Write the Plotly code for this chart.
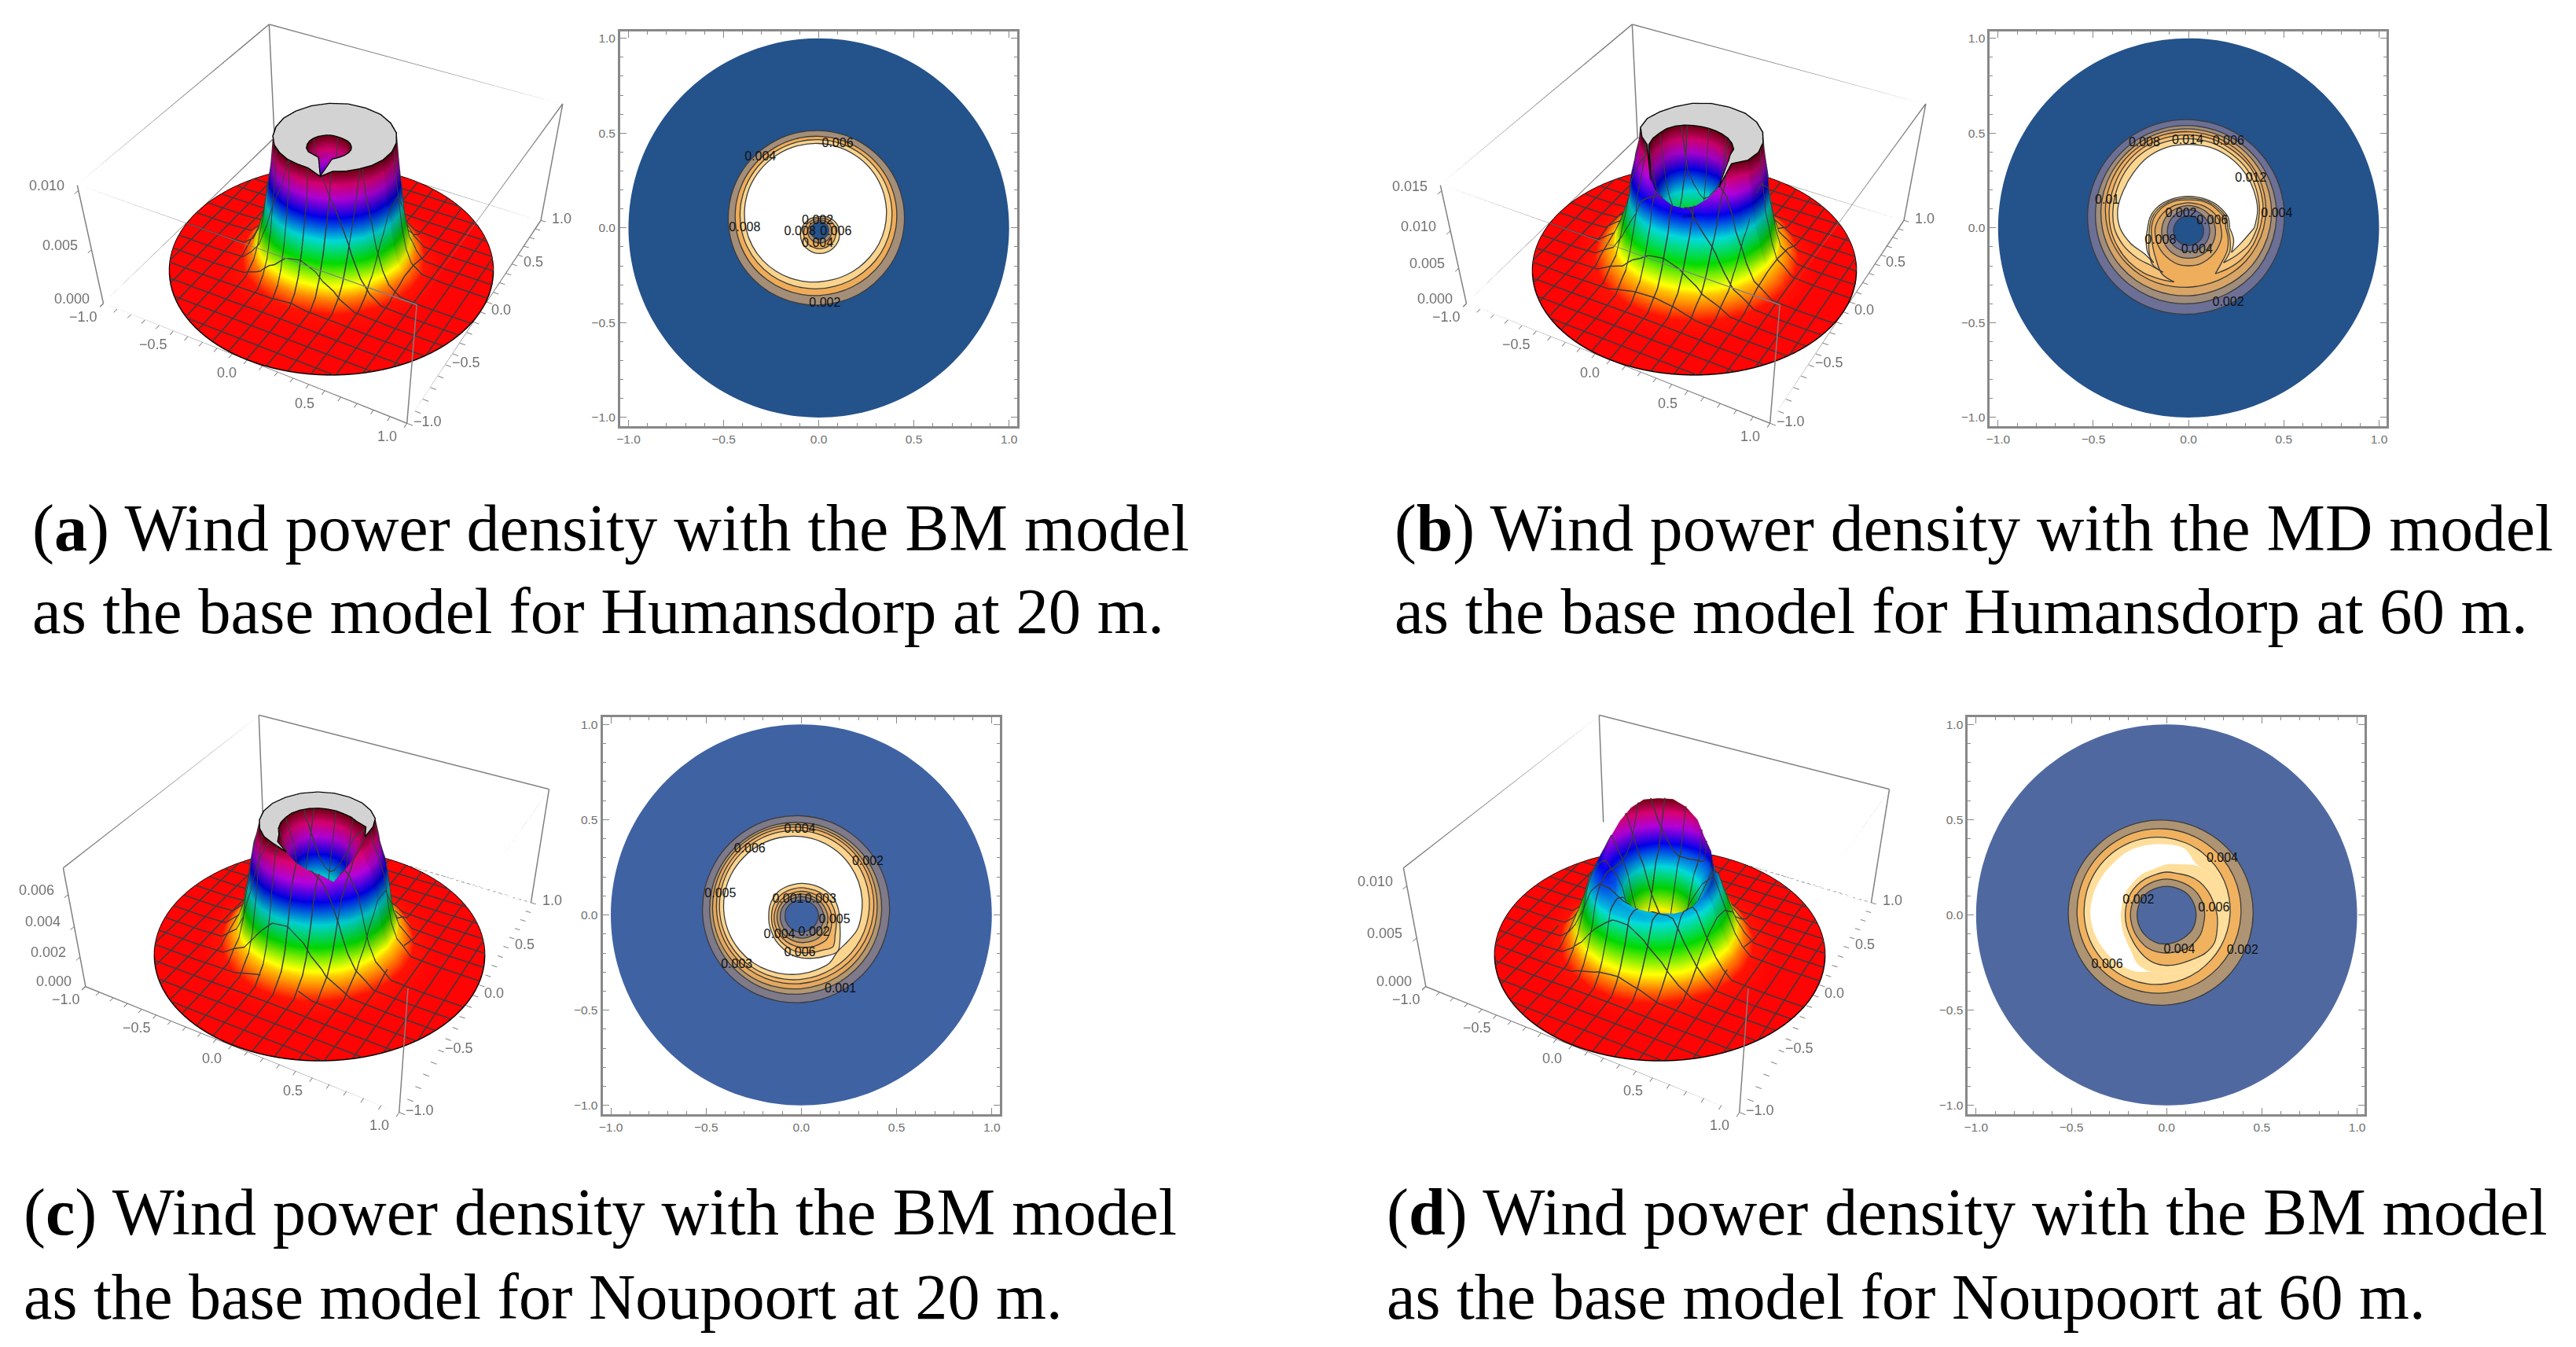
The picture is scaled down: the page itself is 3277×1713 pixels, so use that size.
import numpy as np
import plotly.graph_objects as go

W, H = 3277, 1713
angles_deg = [0,15,30,45,60,75,90,105,120,135,150,165,180,195,210,225,240,255,270,285,300,315,330,345]
disc_r = [1.0]*24
axis_ticks = [-1.0,-0.5,0.0,0.5,1.0]

# ---------- panel (a): radii of each contour, read per angle
a_levels = [0.002,0.004,0.006,0.008]
a_zmax = 0.0103
a_zticks = [0.000,0.005,0.010]
a_out_002 = [.447,.461,.475,.488,.499,.508,.513,.515,.512,.507,.498,.486,.473,.459,.445,.432,.421,.412,.407,.405,.408,.413,.422,.434]
a_out_004 = [.405,.422,.439,.454,.467,.477,.483,.485,.482,.475,.465,.451,.435,.418,.402,.386,.373,.363,.357,.355,.358,.365,.376,.389]
a_out_006 = [.378,.397,.416,.433,.448,.459,.465,.467,.463,.455,.442,.426,.408,.389,.370,.353,.338,.327,.321,.319,.323,.331,.344,.360]
a_out_008 = [.347,.368,.389,.409,.425,.438,.445,.447,.443,.434,.421,.403,.383,.362,.341,.321,.305,.292,.285,.283,.287,.296,.309,.327]
a_in_002 = [.050,.046,.042,.038,.035,.032,.030,.030,.030,.031,.033,.037,.040,.044,.048,.052,.055,.058,.060,.061,.060,.059,.057,.054]
a_in_004 = [.066,.061,.056,.050,.046,.042,.040,.039,.040,.041,.045,.049,.054,.060,.065,.070,.074,.078,.080,.081,.080,.078,.075,.071]
a_in_006 = [.087,.080,.071,.064,.057,.053,.050,.050,.051,.054,.059,.066,.073,.081,.090,.097,.103,.107,.110,.110,.108,.106,.100,.094]
a_in_008 = [.105,.095,.085,.076,.068,.062,.059,.058,.061,.067,.071,.080,.089,.099,.109,.119,.126,.132,.135,.136,.133,.128,.122,.113]
a_cap_in = [.125,.115,.105,.095,.085,.080,.078,.080,.085,.090,.095,.105,.115,.125,.135,.145,.150,.145,.150,.262,.150,.140,.135,.130]
a_cap_out = [.325,.345,.365,.385,.400,.415,.420,.425,.420,.410,.395,.380,.360,.340,.320,.300,.285,.270,.265,.262,.265,.275,.285,.305]
a_ridge_z = [.0103]*19 + [.0098] + [.0103]*4
a_foot_1 = [.495,.500,.525,.535,.550,.550,.560,.555,.560,.550,.550,.530,.520,.500,.495,.475,.470,.455,.455,.445,.460,.455,.470,.475]
a_foot_2 = [.560,.580,.580,.600,.610,.620,.620,.630,.620,.620,.600,.600,.580,.570,.550,.550,.530,.520,.520,.510,.520,.520,.530,.550]
a_floor = 0.72
a_hole = 0.02
a_disc_color = '#24528B'
a_bands = ['#A58E78','#EFAC58','#FAD48C','#FFFFFF']
a_label_text = ['0.006','0.004','0.008','0.002','0.008','0.006','0.004','0.002']
a_label_x = [.099,-.307,-.389,-.006,-.099,.090,-.006,.032]
a_label_y = [.442,.372,.001,.035,-.020,-.020,-.084,-.398]

# ---------- panel (b)
b_levels = [0.002,0.004,0.006,0.008,0.010,0.012,0.014]
b_zmax = 0.0155
b_zticks = [0.000,0.005,0.010,0.015]
b_out_002 = [.499,.515,.530,.544,.556,.565,.571,.573,.570,.564,.554,.542,.527,.512,.496,.482,.470,.461,.455,.453,.456,.462,.472,.485]
b_out_004 = [.456,.475,.493,.510,.524,.534,.540,.541,.538,.529,.517,.502,.484,.465,.447,.430,.416,.406,.400,.399,.402,.411,.423,.438]
b_out_006 = [.427,.449,.470,.489,.505,.516,.522,.523,.518,.507,.492,.474,.453,.431,.410,.391,.375,.364,.358,.357,.362,.373,.388,.406]
b_out_008 = [.394,.420,.445,.467,.486,.500,.507,.508,.502,.490,.472,.451,.426,.400,.375,.353,.334,.320,.313,.312,.318,.330,.348,.369]
b_out_010 = [.375,.405,.430,.455,.470,.485,.490,.490,.485,.470,.450,.430,.410,.385,.360,.335,.310,.295,.290,.290,.280,.300,.325,.350]
b_out_012 = [.360,.385,.410,.435,.450,.465,.470,.470,.465,.450,.430,.410,.390,.355,.315,.280,.270,.270,.270,.270,.270,.260,.290,.330]
b_out_014 = [.345,.375,.395,.415,.430,.440,.440,.440,.430,.410,.395,.385,.360,.315,.270,.260,.260,.260,.260,.260,.260,.250,.260,.290]
b_in_002 = [.078,.074,.070,.067,.065,.064,.063,.064,.065,.067,.070,.074,.078,.082,.086,.089,.091,.092,.093,.092,.091,.089,.086,.082]
b_in_004 = [.110,.106,.102,.099,.097,.096,.095,.096,.097,.099,.102,.106,.110,.114,.118,.121,.123,.124,.125,.124,.123,.121,.118,.114]
b_in_006 = [.140,.135,.130,.125,.120,.118,.118,.118,.120,.125,.130,.135,.140,.145,.150,.155,.158,.160,.160,.160,.158,.155,.150,.145]
b_in_008 = [.170,.165,.155,.145,.138,.133,.132,.133,.138,.145,.155,.165,.175,.180,.185,.190,.195,.200,.200,.200,.195,.190,.185,.180]
b_in_010 = [.195,.195,.180,.170,.160,.152,.148,.152,.160,.170,.180,.190,.195,.200,.215,.240,.280,.295,.290,.290,.280,.250,.235,.215]
b_in_012 = [.205,.205,.190,.178,.168,.160,.157,.160,.168,.178,.190,.200,.205,.215,.240,.270,.270,.270,.270,.270,.270,.260,.250,.225]
b_in_014 = [.215,.215,.200,.187,.175,.168,.166,.168,.175,.187,.200,.210,.215,.230,.250,.260,.260,.260,.260,.260,.260,.250,.260,.245]
b_cap_in = [.225,.225,.210,.197,.185,.178,.176,.178,.185,.197,.210,.220,.225,.240,.255,.260,.260,.260,.260,.260,.260,.250,.260,.255]
b_cap_out = [.335,.365,.385,.405,.420,.430,.430,.430,.420,.400,.385,.375,.350,.305,.265,.260,.260,.260,.260,.260,.260,.250,.260,.280]
b_ridge_z = [.0155,.0155,.0155,.0155,.0155,.0155,.0155,.0155,.0155,.0155,.0155,.0155,.0155,.0155,.0155,.012,.0115,.0112,.0108,.0108,.0112,.0118,.013,.0155]
b_foot_1 = [.545,.565,.580,.590,.605,.615,.620,.620,.620,.610,.600,.590,.575,.560,.545,.530,.520,.510,.505,.500,.505,.510,.520,.535]
b_foot_2 = [.620,.630,.650,.660,.680,.680,.690,.690,.690,.680,.670,.660,.645,.630,.620,.600,.590,.580,.575,.570,.575,.580,.590,.605]
b_floor = 0.78
b_hole = 0.05
b_disc_color = '#24528B'
b_bands = ['#6C7096','#A18D7C','#D9A566','#EFAE5C','#F6C278','#FBD690','#FFFFFF']
b_label_text = ['0.008','0.014','0.006','0.012','0.01','0.004','0.002','0.006','0.008','0.004','0.002']
b_label_x = [-.232,-.005,.209,.327,-.427,.463,-.040,.124,-.148,.044,.208]
b_label_y = [.446,.461,.457,.261,.144,.075,.075,.035,-.069,-.116,-.395]

# ---------- panel (c)
c_levels = [0.001,0.002,0.003,0.004,0.005,0.006]
c_zmax = 0.0075
c_zticks = [0.000,0.002,0.004,0.006]
c_out_001 = [.462,.471,.481,.491,.502,.512,.520,.526,.530,.531,.529,.525,.518,.509,.499,.489,.478,.468,.460,.454,.450,.449,.451,.455]
c_out_002 = [.420,.430,.442,.454,.465,.476,.485,.492,.495,.496,.494,.488,.480,.470,.459,.446,.435,.424,.415,.408,.405,.404,.407,.412]
c_out_003 = [.396,.408,.422,.436,.450,.463,.473,.480,.484,.484,.481,.474,.464,.452,.438,.424,.410,.397,.387,.380,.376,.376,.379,.386]
c_out_004 = [.377,.391,.406,.422,.437,.450,.460,.467,.470,.469,.464,.455,.443,.429,.414,.398,.383,.370,.360,.353,.350,.351,.356,.365]
c_out_005 = [.353,.368,.384,.401,.417,.431,.442,.450,.454,.453,.448,.439,.427,.412,.396,.379,.363,.349,.338,.330,.326,.327,.332,.341]
c_out_006 = [.315,.330,.347,.364,.382,.398,.411,.421,.427,.428,.425,.417,.405,.390,.373,.356,.338,.322,.309,.299,.293,.270,.280,.303]
c_in_001 = [.090,.088,.085,.082,.080,.078,.078,.078,.080,.082,.083,.085,.085,.087,.087,.088,.090,.090,.090,.090,.090,.090,.090,.090]
c_in_002 = [.118,.112,.108,.103,.098,.096,.096,.096,.098,.100,.104,.108,.110,.113,.115,.118,.120,.120,.122,.122,.122,.122,.122,.120]
c_in_003 = [.138,.130,.124,.118,.113,.110,.110,.110,.112,.115,.120,.124,.127,.130,.133,.137,.140,.142,.145,.147,.150,.150,.148,.143]
c_in_004 = [.158,.150,.142,.134,.128,.125,.124,.124,.127,.130,.135,.138,.142,.146,.150,.155,.160,.165,.170,.175,.180,.185,.175,.165]
c_in_005 = [.180,.172,.165,.155,.148,.143,.143,.143,.146,.150,.152,.155,.156,.160,.165,.172,.180,.190,.198,.205,.215,.235,.205,.190]
c_in_006 = [.200,.195,.190,.180,.172,.167,.166,.165,.168,.172,.172,.172,.171,.175,.180,.190,.200,.215,.225,.235,.250,.270,.235,.210]
c_cap_in = [.260,.260,.260,.220,.210,.200,.200,.200,.205,.210,.215,.220,.220,.225,.230,.235,.270,.265,.265,.265,.270,.270,.260,.260]
c_cap_out = [.260,.260,.300,.330,.345,.360,.370,.380,.385,.385,.380,.375,.365,.350,.335,.320,.300,.265,.265,.265,.270,.270,.260,.260]
c_ridge_z = [.0070,.0073,.0075,.0075,.0075,.0075,.0075,.0075,.0075,.0075,.0075,.0075,.0075,.0075,.0075,.0075,.0075,.0072,.0068,.0065,.0063,.0058,.0062,.0066]
c_foot_1 = [.500,.515,.520,.535,.540,.555,.560,.570,.570,.575,.570,.565,.560,.550,.540,.530,.520,.510,.500,.495,.490,.490,.490,.495]
c_foot_2 = [.560,.570,.580,.590,.600,.610,.620,.630,.630,.630,.630,.625,.620,.610,.600,.590,.580,.570,.560,.555,.550,.550,.550,.555]
c_floor = 0.75
c_hole = 0.05
c_disc_color = '#3F62A3'
c_bands = ['#7F7A8A','#B4976F','#E4A85E','#F3B566','#FBD48E','#FFFFFF']
c_label_text = ['0.004','0.006','0.002','0.005','0.001','0.003','0.005','0.002','0.004','0.006','0.003','0.001']
c_label_x = [-.008,-.271,.349,-.425,-.070,.101,.174,.067,-.115,-.008,-.339,.205]
c_label_y = [.448,.343,.277,.110,.081,.081,-.028,-.092,-.104,-.199,-.263,-.391]

# ---------- panel (d)
d_levels = [0.002,0.004,0.006,0.007]
d_zmax = 0.0115
d_zticks = [0.000,0.005,0.010]
d_out_002 = [.454,.458,.464,.472,.480,.489,.497,.505,.511,.515,.518,.518,.516,.512,.506,.498,.490,.481,.473,.465,.459,.455,.452,.452]
d_out_004 = [.390,.397,.406,.417,.428,.440,.451,.461,.468,.473,.475,.474,.470,.463,.454,.443,.432,.420,.409,.399,.392,.387,.385,.386]
d_out_006 = [.333,.340,.351,.363,.377,.391,.405,.417,.427,.434,.437,.437,.433,.426,.415,.403,.389,.375,.361,.349,.339,.332,.329,.329]
d_out_007 = [.310,.310,.310,.310,.310,.360,.370,.380,.390,.390,.395,.400,.400,.390,.375,.360,.340,.310,.310,.310,.315,.310,.310,.310]
d_in_002 = [.155,.155,.155,.155,.152,.150,.150,.150,.152,.155,.155,.155,.155,.155,.155,.155,.155,.155,.152,.150,.150,.152,.155,.155]
d_in_004 = [.200,.200,.198,.195,.190,.188,.188,.188,.188,.190,.190,.190,.190,.190,.192,.195,.200,.200,.200,.200,.205,.205,.205,.200]
d_in_006 = [.265,.255,.250,.245,.235,.225,.225,.220,.220,.220,.220,.218,.217,.218,.220,.230,.245,.260,.265,.265,.270,.285,.290,.275]
d_in_007 = [.310,.310,.310,.310,.300,.275,.265,.250,.250,.245,.245,.240,.240,.243,.250,.265,.300,.310,.310,.310,.315,.310,.310,.310]
d_cap_in = [.310,.310,.310,.310,.305,.320,.320,.320,.320,.320,.320,.320,.320,.320,.310,.310,.320,.310,.310,.310,.315,.310,.310,.310]
d_cap_out = d_cap_in
d_ridge_z = [.0068,.0072,.0078,.0085,.0092,.0102,.0110,.0115,.0115,.0115,.0110,.0102,.0094,.0085,.0078,.0072,.0066,.0063,.0062,.0061,.0061,.0062,.0062,.0064]
d_foot_1 = [.500,.505,.510,.520,.525,.535,.540,.550,.555,.560,.565,.565,.560,.555,.550,.540,.535,.525,.520,.510,.505,.500,.500,.500]
d_foot_2 = [.560,.565,.575,.580,.590,.600,.610,.615,.620,.625,.630,.630,.625,.620,.610,.600,.595,.585,.580,.570,.565,.560,.560,.560]
d_floor = 0.75
d_hole = 0.12
d_disc_color = '#4F69A0'
d_bands = ['#AE9473','#F0B25F','#FEDE9A','#FFFFFF']
d_label_text = ['0.004','0.002','0.006','0.004','0.002','0.006']
d_label_x = [.292,-.148,.248,.067,.399,-.312]
d_label_y = [.296,.075,.036,-.182,-.189,-.263]

caption_a = ['(<b>a</b>) Wind power density with the BM model','as the base model for Humansdorp at 20 m.']
caption_b = ['(<b>b</b>) Wind power density with the MD model','as the base model for Humansdorp at 60 m.']
caption_c = ['(<b>c</b>) Wind power density with the BM model','as the base model for Noupoort at 20 m.']
caption_d = ['(<b>d</b>) Wind power density with the BM model','as the base model for Noupoort at 60 m.']

panels = [
 dict(name='a', levels=a_levels, zmax=a_zmax, zticks=a_zticks, out=[a_out_002,a_out_004,a_out_006,a_out_008],
      inn=[a_in_002,a_in_004,a_in_006,a_in_008], cap_in=a_cap_in, cap_out=a_cap_out, ridge=a_ridge_z,
      foot1=a_foot_1, foot2=a_foot_2, floor=a_floor, hole=a_hole, disc=a_disc_color, bands=a_bands,
      lt=a_label_text, lx=a_label_x, ly=a_label_y, box=(785.5,1291,39.5,542), view=(417,260), cap=True, lastline=True,
      caption=caption_a, cx=34, cy=(672,777), csize=(84,82.7)),
 dict(name='b', levels=b_levels, zmax=b_zmax, zticks=b_zticks, out=[b_out_002,b_out_004,b_out_006,b_out_008,b_out_010,b_out_012,b_out_014],
      inn=[b_in_002,b_in_004,b_in_006,b_in_008,b_in_010,b_in_012,b_in_014], cap_in=b_cap_in, cap_out=b_cap_out, ridge=b_ridge_z,
      foot1=b_foot_1, foot2=b_foot_2, floor=b_floor, hole=b_hole, disc=b_disc_color, bands=b_bands,
      lt=b_label_text, lx=b_label_x, ly=b_label_y, box=(2531,3037,39.5,542), view=(2154,260), cap=True, lastline=True,
      caption=caption_b, cx=1770, cy=(672,777), csize=(83.6,82.8)),
 dict(name='c', levels=c_levels, zmax=c_zmax, zticks=c_zticks, out=[c_out_001,c_out_002,c_out_003,c_out_004,c_out_005,c_out_006],
      inn=[c_in_001,c_in_002,c_in_003,c_in_004,c_in_005,c_in_006], cap_in=c_cap_in, cap_out=c_cap_out, ridge=c_ridge_z,
      foot1=c_foot_1, foot2=c_foot_2, floor=c_floor, hole=c_hole, disc=c_disc_color, bands=c_bands,
      lt=c_label_text, lx=c_label_x, ly=c_label_y, box=(763,1269,912,1417), view=(402,1128), cap=True, lastline=True,
      caption=caption_c, cx=23, cy=(1542,1649), csize=(84,82.2)),
 dict(name='d', levels=d_levels, zmax=d_zmax, zticks=d_zticks, out=[d_out_002,d_out_004,d_out_006,d_out_007],
      inn=[d_in_002,d_in_004,d_in_006,d_in_007], cap_in=d_cap_in, cap_out=d_cap_out, ridge=d_ridge_z,
      foot1=d_foot_1, foot2=d_foot_2, floor=d_floor, hole=d_hole, disc=d_disc_color, bands=d_bands,
      lt=d_label_text, lx=d_label_x, ly=d_label_y, box=(2503,3009,912,1417), view=(2110,1128), cap=False, lastline=False,
      caption=caption_d, cx=1760, cy=(1542,1649), csize=(84,82.2)),
]

th = np.deg2rad(np.array(angles_deg + [360]))
def wrap(r):
    r = np.asarray(r, float)
    return np.concatenate([r, r[:1]])
def xy(r):
    w = wrap(r)
    return w*np.cos(th), w*np.sin(th)

CAPK = 1.06   # intensity of the clipped top, above the hue range -> grey
hue_stops = [(0,'#ff0000'),(1/6,'#ffff00'),(1/3,'#00d800'),(.5,'#00d8d8'),(2/3,'#0000e8'),(.8,'#b000d8'),(.9,'#d80070'),(1,'#700010')]
HUE = [[s/CAPK,c] for s,c in hue_stops] + [[1/CAPK+.002,'#cfcfcf'],[1,'#cfcfcf']]
LIGHT = dict(ambient=.62, diffuse=.62, specular=.08, roughness=.7, fresnel=.05)
LIGHTPOS = dict(x=70000,y=-40000,z=100000)
GRID = [-1+.125*k for k in range(1,16)]

def grid_mesh(X,Y,Z,C):
    nr,nc = X.shape
    idx = np.arange(nr*nc).reshape(nr,nc)
    a = idx[:-1,:-1].ravel(); b = idx[1:,:-1].ravel(); c = idx[1:,1:].ravel(); d = idx[:-1,1:].ravel()
    return X.ravel(),Y.ravel(),Z.ravel(),C.ravel(),np.r_[a,a],np.r_[b,c],np.r_[c,d]

def iso_segments(vx,vy,vz,I,J,K,lift):
    """grid lines of the mesh: where each triangle meets x=c or y=c"""
    ox,oy,oz = [],[],[]
    tri = np.c_[I,J,K]
    for coord in (vx,vy):
        for c in GRID:
            v = coord[tri]-c
            hit = (v.min(axis=1)<0)&(v.max(axis=1)>0)
            for t,vals in zip(tri[hit],v[hit]):
                pts=[]
                for m in range(3):
                    n=(m+1)%3
                    if vals[m]*vals[n]<0:
                        s=vals[m]/(vals[m]-vals[n])
                        pts.append([vx[t[m]]+s*(vx[t[n]]-vx[t[m]]),vy[t[m]]+s*(vy[t[n]]-vy[t[m]]),vz[t[m]]+s*(vz[t[n]]-vz[t[m]])])
                if len(pts)==2:
                    ox+= [pts[0][0],pts[1][0],None]; oy+=[pts[0][1],pts[1][1],None]; oz+=[pts[0][2]+lift,pts[1][2]+lift,None]
    return ox,oy,oz

# camera: the reference uses the usual view point (1.3,-2.4,2)
v = np.array([1.3,-2.4,2.0]); v = v/np.linalg.norm(v)
S = 435.0; Hdom = 540.0
focal = Hdom/np.tan(np.pi/8)
f = -v
right = np.cross(f,[0,0,1.0]); right /= np.linalg.norm(right)
upv = np.cross(right,f)

fig = go.Figure()
layout = dict(width=W, height=H, margin=dict(l=0,r=0,t=0,b=0), autosize=False, paper_bgcolor='white',
              plot_bgcolor='white', showlegend=False, annotations=[])
TICKC = '#707070'
for i,p in enumerate(panels, start=1):
    xn = 'x' if i==1 else f'x{i}'; yn = 'y' if i==1 else f'y{i}'
    xk = 'xaxis' if i==1 else f'xaxis{i}'; yk = 'yaxis' if i==1 else f'yaxis{i}'
    sk = 'scene' if i==1 else f'scene{i}'
    l,r_,t,b = p['box']
    ax = dict(tickvals=axis_ticks, tickformat='.1f', ticks='inside', ticklen=8, tickwidth=1, tickcolor='#888',
              showline=True, linecolor='#888', linewidth=3, mirror='ticks', showgrid=False, zeroline=False,
              tickfont=dict(family='Liberation Sans', size=15.5, color=TICKC),
              minor=dict(tickvals=[round(-1+.1*k,1) for k in range(21)], ticks='inside', ticklen=4, tickcolor='#888', tickwidth=1))
    layout[xk] = dict(domain=[l/W,r_/W], range=[-1.043,1.041], anchor=yn, **ax)
    layout[yk] = dict(domain=[1-b/H,1-t/H], range=[-1.046,1.038], anchor=xn, **ax)
    def poly(rr,color):
        x,y = xy(rr)
        fig.add_trace(go.Scatter(x=x,y=y,xaxis=xn,yaxis=yn,mode='lines',fill='toself',fillcolor=color,
                                 line=dict(width=0,shape='spline',color=color),hoverinfo='skip'))
    def outline(ra,rb):
        a = wrap(ra); bb = wrap(rb); pinch = np.abs(a-bb)<1e-6
        x = a*np.cos(th); y = a*np.sin(th)
        keep = ~(pinch & np.roll(pinch,1) & np.roll(pinch,-1))
        x = np.where(keep,x,np.nan); y = np.where(keep,y,np.nan)
        fig.add_trace(go.Scatter(x=x,y=y,xaxis=xn,yaxis=yn,mode='lines',
                                 line=dict(width=1.3,shape='spline',color='#3c3c3c'),hoverinfo='skip'))
    poly(disc_r,p['disc'])
    n = len(p['levels'])
    for k in range(n):
        poly(p['out'][k],p['bands'][k])
    for k in range(n-1,-1,-1):
        poly(p['inn'][k], p['bands'][k-1] if k>0 else p['disc'])
    for k in range(n):
        if k==n-1 and not p['lastline']:
            continue
        outline(p['out'][k],p['inn'][k]); outline(p['inn'][k],p['out'][k])
    fig.add_trace(go.Scatter(x=p['lx'],y=p['ly'],text=p['lt'],xaxis=xn,yaxis=yn,mode='text',
                             textfont=dict(family='Liberation Sans',size=16,color='#111'),hoverinfo='skip'))

    # --- 3D surface: mesh rows sit on the contours read above
    ridge = np.array(p['ridge']); zmax = p['zmax']
    zlo = -zmax*.005; zhi = zmax*1.012
    zl = p['levels']
    rows_all = [[0.0]*24,[p['hole']]*24] + p['inn'] + [p['cap_in']]
    z_all = [np.zeros(24),np.zeros(24)] + [np.minimum(L,ridge) for L in zl] + [ridge]
    rows_o = [p['cap_out']] + p['out'][::-1] + [p['foot1'],p['foot2'],[p['floor']]*24]
    z_o = [ridge] + [np.minimum(L,ridge) for L in zl[::-1]] + [np.full(24,zmax*.085),np.full(24,zmax*.012),np.zeros(24)]
    scene_ref = 'scene' if i==1 else f'scene{i}'
    parts = []
    for rows,zs in ((rows_all,z_all),(rows_o,z_o)):
        R = np.array([wrap(q) for q in rows]); Z = np.array([wrap(q) for q in zs])
        parts.append(grid_mesh(R*np.cos(th),R*np.sin(th),Z,Z))
    t_f = np.linspace(0,2*np.pi,121)
    r_f = np.linspace(.66,1.0,4)
    z0 = np.zeros((4,121))
    parts.append(grid_mesh(np.outer(r_f,np.cos(t_f)),np.outer(r_f,np.sin(t_f)),z0,z0))
    def join(plist):
        out=[[] for _ in range(7)]; off=0
        for q in plist:
            for m in range(4): out[m].append(q[m])
            for m in range(4,7): out[m].append(q[m]+off)
            off+=len(q[0])
        return [np.concatenate(o) for o in out]
    vx_,vy_,vz_,vc_,I,J,K = join(parts)
    ox,oy,oz = iso_segments(vx_,vy_,vz_,I,J,K,zmax*.004)
    if p['cap']:
        Rc = np.array([wrap(p['cap_in']),wrap(p['cap_out'])]); Zc = np.array([wrap(ridge),wrap(ridge)])
        vx_,vy_,vz_,vc_,I,J,K = join([(vx_,vy_,vz_,vc_,I,J,K),
                                      grid_mesh(Rc*np.cos(th),Rc*np.sin(th),Zc,np.full_like(Zc,zmax*CAPK))])
    fig.add_trace(go.Mesh3d(x=vx_,y=vy_,z=vz_,i=I,j=J,k=K,intensity=vc_,cmin=0,cmax=zmax*CAPK,colorscale=HUE,showscale=False,
                            lighting=LIGHT,lightposition=LIGHTPOS,flatshading=False,scene=scene_ref,hoverinfo='skip'))
    fig.add_trace(go.Scatter3d(x=ox,y=oy,z=oz,mode='lines',line=dict(color='#3a3a3a',width=3),connectgaps=False,scene=scene_ref,hoverinfo='skip'))
    ex,ey,ez = list(np.cos(t_f))+[None],list(np.sin(t_f))+[None],[0.0]*121+[None]
    if p['cap']:
        for ra,rb in ((p['cap_in'],p['cap_out']),(p['cap_out'],p['cap_in'])):
            a = wrap(ra); bb = wrap(rb); pinch = np.abs(a-bb)<1e-6
            keep = ~(pinch & np.roll(pinch,1) & np.roll(pinch,-1))
            for m in range(25):
                if keep[m]:
                    ex.append(a[m]*np.cos(th[m])); ey.append(a[m]*np.sin(th[m])); ez.append(wrap(ridge)[m]*1.002)
                else:
                    ex.append(None); ey.append(None); ez.append(None)
            ex.append(None); ey.append(None); ez.append(None)
    fig.add_trace(go.Scatter3d(x=ex,y=ey,z=ez,mode='lines',line=dict(color='#000',width=3),connectgaps=False,scene=scene_ref,hoverinfo='skip'))
    # the twelve edges of the box
    bx,by,bz=[],[],[]
    for y0 in (-1,1):
        for z0_ in (zlo,zhi):
            bx+=[-1,1,None]; by+=[y0,y0,None]; bz+=[z0_,z0_,None]
    for x0 in (-1,1):
        for z0_ in (zlo,zhi):
            bx+=[x0,x0,None]; by+=[-1,1,None]; bz+=[z0_,z0_,None]
    for x0 in (-1,1):
        for y0 in (-1,1):
            bx+=[x0,x0,None]; by+=[y0,y0,None]; bz+=[zlo,zhi,None]
    fig.add_trace(go.Scatter3d(x=bx,y=by,z=bz,mode='lines',line=dict(color='#808080',width=3),connectgaps=False,scene=scene_ref,hoverinfo='skip'))
    # the eye stays on the true line of sight; the look-at point is moved so the box lands where it does in the reference
    vx,vy = p['view']
    top = 0 if i<=2 else H-2*Hdom
    dy = vy-(top+Hdom)
    tan_a = dy/focal
    dist = focal/S*(1+.7*tan_a**2)
    eye = v*dist
    look = upv*(tan_a*dist)
    tv = [round(-1+.1*k,1) for k in range(21)]
    a3 = dict(showgrid=False,zeroline=False,showbackground=False,showspikes=False,showline=False,
              ticks='outside',ticklen=6,tickcolor='#808080',tickwidth=2,title='',showticklabels=False)
    zt = p['zticks']
    lab = dict(showarrow=False,font=dict(family='Liberation Sans',size=18,color=TICKC),xanchor='center',yanchor='middle')
    ann3 = []
    for q in axis_ticks:
        s = f'{q:.1f}'.replace('-','\u2212')
        ann3.append(dict(x=q,y=-1,z=0,text=s,xshift=-25,yshift=-17,**lab))
        ann3.append(dict(x=1,y=q,z=0,text=s,xshift=27,yshift=2,**lab))
    for q in zt:
        ann3.append(dict(x=-1,y=-1,z=q,text=f'{q:.3f}',xshift=-40,yshift=6,**lab))
    layout[sk] = dict(domain=dict(x=[(vx-370)/W,(vx+370)/W],y=[1-(top+2*Hdom)/H,1-top/H]),
        aspectmode='manual',aspectratio=dict(x=1,y=1,z=.42),
        camera=dict(eye=dict(x=eye[0],y=eye[1],z=eye[2]),center=dict(x=look[0],y=look[1],z=look[2]),up=dict(x=0,y=0,z=1)),
        xaxis=dict(range=[-1,1],tickvals=tv,**a3),
        yaxis=dict(range=[-1,1],tickvals=tv,**a3),
        zaxis=dict(range=[zlo,zhi],tickvals=zt,**a3),
        annotations=ann3)
    for txt,cy,cs in zip(p['caption'],p['cy'],p['csize']):
        layout['annotations'].append(dict(text=txt,xref='paper',yref='paper',x=p['cx']/W,y=1-cy/H,xanchor='left',yanchor='middle',
                                          showarrow=False,align='left',font=dict(family='Liberation Serif',size=cs,color='#000')))
fig.update_layout(**layout)
fig.write_html('out.html', post_script="document.body.style.margin='0';", config={'displayModeBar':False})
